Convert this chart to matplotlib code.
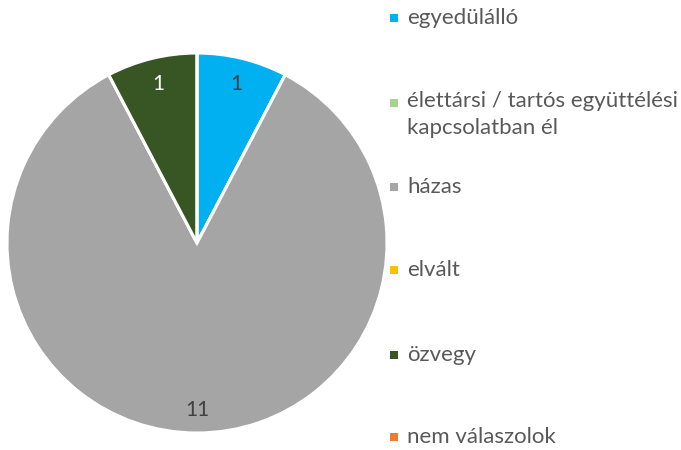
import numpy as np
import matplotlib.pyplot as plt
from matplotlib.patches import Rectangle

# data
labels = ['egyedülálló', 'élettársi / tartós együttélési\nkapcsolatban él', 'házas',
          'elvált', 'özvegy', 'nem válaszolok']
values = [1, 0, 11, 0, 1, 0]
colors = ['#00B0F0', '#A9D18E', '#A5A5A5', '#FFC000', '#375623', '#ED7D31']
label_colors = ['#404040', '#404040', '#404040', '#404040', '#FFFFFF', '#404040']

plt.rcParams['font.family'] = ['Lato', 'DejaVu Sans']

fig = plt.figure(figsize=(6.81, 4.5), dpi=100)
# pie centre ~ (197, 243) px, radius ~189 px
ax = fig.add_axes([(197 - 190) / 681, 1 - (243 + 190) / 450, 380 / 681, 380 / 450])

wedges, texts = ax.pie(values, colors=colors, startangle=90, counterclock=False,
                       wedgeprops=dict(edgecolor='white', linewidth=2.2),
                       radius=1.0)
ax.set_xlim(-1, 1)
ax.set_ylim(-1, 1)
ax.set_aspect('equal')
ax.axis('off')

# data labels inside slices
total = sum(values)
angle = 90.0
for v, c in zip(values, label_colors):
    span = 360.0 * v / total
    if v > 0:
        mid = np.deg2rad(angle - span / 2)
        d = 0.86 if v < 5 else 0.88
        ax.text(d * np.cos(mid), d * np.sin(mid), str(v), ha='center', va='center',
                fontsize=15, color=c)
    angle -= span

# legend, spread evenly down the right side
ys = [18, 103, 187, 270, 355, 437]
for lab, col, y in zip(labels, colors, ys):
    fig.patches.append(Rectangle((390 / 681, 1 - (y + 4) / 450), 8 / 681, 8 / 450,
                                 transform=fig.transFigure, facecolor=col, edgecolor='none'))
    if '\n' in lab:
        fig.text(407 / 681, 1 - (y - 12) / 450, lab, ha='left', va='top',
                 fontsize=16, color='#595959', linespacing=1.45)
    else:
        fig.text(407 / 681, 1 - y / 450, lab, ha='left', va='center',
                 fontsize=16, color='#595959')

fig.savefig('out.png', dpi=100)
